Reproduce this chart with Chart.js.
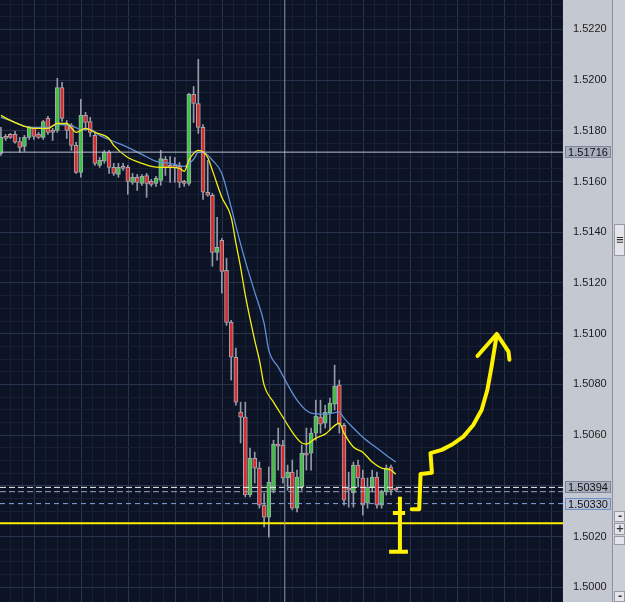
<!DOCTYPE html>
<html>
<head>
<meta charset="utf-8">
<script src="https://cdn.jsdelivr.net/npm/chart.js@4.4.0/dist/chart.umd.min.js"></script>
<style>
html, body { margin: 0; padding: 0; background: #c4c8d0; overflow: hidden; }
#wrap { position: relative; width: 625px; height: 602px; }
</style>
</head>
<body>
<div id="wrap"><canvas id="chart"></canvas></div>
<script>
// Candles
const candleOpen = [1.51711,1.51778,1.51786,1.51786,1.51758,1.51739,1.51774,1.51810,1.51786,1.51774,
  1.51849,1.51798,1.51802,1.51971,1.51825,1.51821,1.51743,1.51636,1.51861,1.51837,
  1.51782,1.51664,1.51680,1.51715,1.51656,1.51628,1.51656,1.51656,1.51597,1.51617,
  1.51593,1.51624,1.51601,1.51593,1.51605,1.51688,1.51664,1.51660,1.51660,1.51597,
  1.51593,1.51944,1.51908,1.51814,1.51558,1.51546,1.51321,1.51368,1.51250,1.51045,
  1.50907,1.50691,1.50671,1.50364,1.50509,1.50470,1.50324,1.50277,1.50383,1.50561,
  1.50561,1.50431,1.50454,1.50312,1.50395,1.50529,1.50529,1.50608,1.50671,1.50647,
  1.50687,1.50722,1.50797,1.50639,1.50391,1.50372,1.50482,1.50431,1.50332,1.50395,
  1.50435,1.50324,1.50376,1.50474,1.50387];
const candleHigh = [1.51814,1.51786,1.51790,1.51798,1.51774,1.51782,1.51818,1.51814,1.51794,1.51841,
  1.51857,1.51810,1.52007,1.51991,1.51841,1.51829,1.51755,1.51924,1.51873,1.51853,
  1.51790,1.51695,1.51723,1.51723,1.51672,1.51672,1.51672,1.51664,1.51632,1.51628,
  1.51628,1.51632,1.51609,1.51621,1.51723,1.51699,1.51699,1.51695,1.51676,1.51605,
  1.51948,1.51975,1.52082,1.51825,1.51684,1.51554,1.51459,1.51376,1.51297,1.51053,
  1.50943,1.50730,1.50730,1.50549,1.50533,1.50494,1.50372,1.50474,1.50580,1.50628,
  1.50580,1.50482,1.50502,1.50462,1.50561,1.50628,1.50628,1.50738,1.50738,1.50718,
  1.50746,1.50876,1.50817,1.50647,1.50454,1.50494,1.50502,1.50462,1.50431,1.50462,
  1.50454,1.50383,1.50482,1.50482,1.50391];
const candleLow = [1.51703,1.51762,1.51770,1.51751,1.51715,1.51719,1.51766,1.51766,1.51770,1.51766,
  1.51786,1.51762,1.51794,1.51837,1.51770,1.51723,1.51632,1.51617,1.51802,1.51778,
  1.51664,1.51656,1.51672,1.51632,1.51624,1.51617,1.51644,1.51550,1.51589,1.51565,
  1.51585,1.51538,1.51581,1.51581,1.51585,1.51624,1.51597,1.51597,1.51577,1.51581,
  1.51585,1.51833,1.51790,1.51530,1.51542,1.51266,1.51290,1.51160,1.51033,1.50817,
  1.50718,1.50569,1.50356,1.50356,1.50411,1.50312,1.50238,1.50198,1.50372,1.50462,
  1.50411,1.50383,1.50305,1.50297,1.50383,1.50462,1.50462,1.50580,1.50608,1.50628,
  1.50620,1.50699,1.50608,1.50324,1.50316,1.50316,1.50395,1.50285,1.50312,1.50376,
  1.50312,1.50312,1.50364,1.50364,1.50379];
const candleClose = [1.51774,1.51770,1.51774,1.51755,1.51735,1.51774,1.51814,1.51778,1.51774,1.51837,
  1.51794,1.51794,1.51971,1.51849,1.51802,1.51743,1.51636,1.51861,1.51833,1.51794,
  1.51672,1.51684,1.51715,1.51656,1.51632,1.51656,1.51652,1.51601,1.51617,1.51597,
  1.51621,1.51593,1.51589,1.51613,1.51691,1.51656,1.51656,1.51656,1.51597,1.51593,
  1.51944,1.51908,1.51814,1.51558,1.51546,1.51321,1.51341,1.51246,1.51045,1.50907,
  1.50730,1.50671,1.50364,1.50509,1.50470,1.50324,1.50277,1.50415,1.50565,1.50557,
  1.50431,1.50454,1.50312,1.50435,1.50529,1.50521,1.50608,1.50675,1.50643,1.50691,
  1.50726,1.50793,1.50643,1.50344,1.50383,1.50482,1.50431,1.50324,1.50395,1.50435,
  1.50324,1.50376,1.50470,1.50383,1.50383];

// Moving averages (yellow = fast, blue = slow), sampled at candle indices
const fastIdx = [0,2,5,7,10,12,14,16,18,20,23,24,27,30,32,34,36,38,39,40,41,42,44,45,47,49,50,51,52,54,55,56,58,60,62,64,65,67,69,72,73,75,77,79,81,83,84];
const fastMa = [1.51861,1.51841,1.51818,1.51810,1.51810,1.51829,1.51829,1.51794,1.51810,1.51794,
  1.51770,1.51743,1.51695,1.51672,1.51660,1.51656,1.51656,1.51652,1.51640,1.51684,
  1.51711,1.51723,1.51695,1.51644,1.51538,1.51459,1.51357,1.51262,1.51152,1.50974,
  1.50896,1.50797,1.50730,1.50671,1.50612,1.50569,1.50565,1.50588,1.50604,1.50647,
  1.50608,1.50553,1.50533,1.50494,1.50470,1.50462,1.50446];
const slowIdx = [0,2,5,7,10,12,15,17,19,21,24,27,30,33,36,39,41,42,43,45,47,49,50,52,54,56,57,59,63,66,69,72,73,75,77,80,82,84];
const slowMa = [1.51853,1.51841,1.51818,1.51814,1.51814,1.51825,1.51821,1.51806,1.51806,1.51782,
  1.51758,1.51735,1.51707,1.51680,1.51672,1.51660,1.51688,1.51715,1.51715,1.51684,
  1.51632,1.51498,1.51424,1.51286,1.51164,1.51041,1.50934,1.50868,1.50738,1.50687,
  1.50683,1.50691,1.50667,1.50628,1.50592,1.50549,1.50521,1.50494];

// Price axis labels
const priceTicks = [1.5000,1.5020,1.5040,1.5060,1.5080,1.5100,1.5120,1.5140,1.5160,1.5180,1.5200,1.5220];
const hiddenTicks = [1.5040]; // covered by the level tags in the screenshot

// Levels and crosshair
const crossY = 1.51716;
const crossX = 60.4;
const levelWhite = 1.50394;
const levelGray = 1.50377;
const levelBlue = 1.50330;
const levelYellow = 1.50253;

// Hand-drawn yellow annotation (index, price)
const arrowX = [87.4,89.0,89.3,91.7,91.4,93.8,95.9,98.4,100.5,102.3,103.5,104.4,105.5];
const arrowY = [1.50308,1.50308,1.50447,1.50452,1.50529,1.50542,1.50562,1.50594,1.50640,1.50700,1.50778,1.50870,1.50995];
const headX = [101.4,105.5,108.0,108.2];
const headY = [1.50912,1.50999,1.50929,1.50897];
const markX = [84.9,84.9,null,83.4,86.0,null,82.6,86.6];
const markY = [1.50357,1.50136,null,1.50293,1.50293,null,1.50140,1.50140];

const X_MIN = -0.2, X_MAX = 119.6;
const Y_MIN = 1.49942, Y_MAX = 1.52316;

const GREEN = '#3fc23f';
const RED = '#d92b2b';
const NAVY = '#0b1325';
const PANEL = '#c4c8d0';
const GRID_MAJOR = '#28334d';
const GRID_MINOR = '#161f35';

const idx = candleOpen.map((_, i) => i);
const pts = (xs, ys) => xs.map((x, k) => ({ x: x === null ? NaN : x, y: ys[k] }));
const hline = v => [{ x: X_MIN, y: v }, { x: X_MAX, y: v }];

const framePlugin = {
    id: 'frame',
    beforeDraw(chart) {
        const { ctx, chartArea: a } = chart;
        ctx.save();
        ctx.fillStyle = PANEL;
        ctx.fillRect(0, 0, chart.width, chart.height);
        ctx.fillStyle = NAVY;
        ctx.fillRect(a.left, a.top, a.right - a.left, a.bottom - a.top);
        ctx.fillStyle = '#cbced5';
        ctx.fillRect(613, 0, 12, chart.height);
        ctx.fillStyle = '#8a8f98';
        ctx.fillRect(612, 0, 1, chart.height);
        ctx.restore();
    },
    afterDraw(chart) {
        const { ctx } = chart;
        const y = chart.scales.y;
        ctx.save();
        const tag = (v, text, fill, stroke) => {
            const py = Math.round(y.getPixelForValue(v));
            ctx.fillStyle = fill;
            ctx.fillRect(565, py - 6, 46, 12);
            ctx.strokeStyle = stroke;
            ctx.lineWidth = 1;
            ctx.strokeRect(565.5, py - 5.5, 45, 11);
            ctx.fillStyle = '#111';
            ctx.font = '11px "Liberation Sans", Arial, sans-serif';
            ctx.textAlign = 'center';
            ctx.textBaseline = 'middle';
            ctx.fillText(text, 588, py + 0.5);
        };
        tag(crossY, '1.51716', '#a9afbe', '#7d8496');
        tag(levelWhite, '1.50394', '#a9afbe', '#7d8496');
        tag(levelBlue, '1.50330', '#b9c0d0', '#6f8fcb');

        // scrollbar strip widgets
        const btn = (top, h, text) => {
            ctx.fillStyle = '#e3e5ea';
            ctx.fillRect(614, top, 11, h);
            ctx.strokeStyle = '#979ca6';
            ctx.strokeRect(614.5, top + 0.5, 10, h - 1);
            ctx.fillStyle = '#333';
            ctx.font = 'bold 10px "DejaVu Sans", sans-serif';
            ctx.textAlign = 'center';
            ctx.textBaseline = 'middle';
            ctx.fillText(text, 620, top + h / 2);
        };
        btn(224, 32, '\u2261');
        btn(511, 11, '-');
        btn(523, 12, '+');
        btn(536, 9, '');
        btn(591, 11, '-');
        ctx.restore();
    }
};

const ctx = document.getElementById('chart').getContext('2d');
new Chart(ctx, {
    data: {
        datasets: [
            { type: 'line', label: 'arrow', order: 1, data: pts(arrowX, arrowY), borderColor: '#fff200', borderWidth: 4, pointRadius: 0, borderCapStyle: 'round', borderJoinStyle: 'round', tension: 0 },
            { type: 'line', label: 'head', order: 1, data: pts(headX, headY), borderColor: '#fff200', borderWidth: 4, pointRadius: 0, borderCapStyle: 'round', borderJoinStyle: 'round', tension: 0 },
            { type: 'line', label: 'mark', order: 1, data: pts(markX, markY), borderColor: '#fff200', borderWidth: 4, pointRadius: 0, borderCapStyle: 'butt', spanGaps: false, tension: 0 },
            { type: 'line', label: 'crossY', order: 2, data: hline(crossY), borderColor: '#b9c0d0', borderWidth: 1, pointRadius: 0 },
            { type: 'line', label: 'crossX', order: 2, data: [{ x: crossX, y: Y_MIN }, { x: crossX, y: Y_MAX }], borderColor: '#8f97aa', borderWidth: 1, pointRadius: 0 },
            { type: 'line', label: 'white', order: 2, data: hline(levelWhite), borderColor: '#f2f2f2', borderWidth: 1, borderDash: [6, 3], pointRadius: 0 },
            { type: 'line', label: 'gray', order: 2, data: hline(levelGray), borderColor: '#9ba3b4', borderWidth: 1, borderDash: [6, 3], pointRadius: 0 },
            { type: 'line', label: 'blue', order: 2, data: hline(levelBlue), borderColor: '#86a3d8', borderWidth: 1, borderDash: [5, 4], pointRadius: 0 },
            { type: 'line', label: 'yellow', order: 2, data: hline(levelYellow), borderColor: '#ffef00', borderWidth: 2, pointRadius: 0 },
            { type: 'line', label: 'fast', order: 3, data: pts(fastIdx, fastMa), borderColor: '#f4ee10', borderWidth: 1.3, pointRadius: 0, cubicInterpolationMode: 'monotone' },
            { type: 'line', label: 'slow', order: 3, data: pts(slowIdx, slowMa), borderColor: '#5f8fd6', borderWidth: 1.3, pointRadius: 0, cubicInterpolationMode: 'monotone' },
            {
                type: 'bar', label: 'body', order: 5, grouped: false,
                data: idx.map(i => ({ x: i, y: [candleOpen[i], candleClose[i]] })),
                backgroundColor: idx.map(i => candleClose[i] >= candleOpen[i] ? GREEN : RED),
                borderColor: '#a3a9b3', borderWidth: 1, borderSkipped: false, barThickness: 4, minBarLength: 2
            },
            {
                type: 'bar', label: 'wick', order: 6, grouped: false,
                data: idx.map(i => ({ x: i, y: [candleLow[i], candleHigh[i]] })),
                backgroundColor: '#959ba6', borderWidth: 0, barThickness: 1
            }
        ]
    },
    options: {
        responsive: true,
        maintainAspectRatio: false,
        animation: false,
        events: [],
        layout: { padding: { left: 0, right: 12, top: 0, bottom: 0 } },
        plugins: { legend: { display: false }, tooltip: { enabled: false } },
        scales: {
            x: {
                type: 'linear', min: X_MIN, max: X_MAX, offset: false,
                afterBuildTicks: s => {
                    const t = [];
                    for (let v = -1.7; v <= X_MAX; v += 2.5) t.push({ value: v });
                    s.ticks = t;
                },
                afterFit: s => { s.height = 0; s.paddingLeft = 0; s.paddingRight = 0; },
                ticks: { display: false },
                border: { display: false },
                grid: {
                    drawTicks: false,
                    color: c => {
                        if (!c.tick) return GRID_MINOR;
                        const r = ((c.tick.value - 8.3) % 10 + 10) % 10;
                        return (r < 0.01 || r > 9.99) ? GRID_MAJOR : GRID_MINOR;
                    }
                }
            },
            y: {
                type: 'linear', position: 'right', min: Y_MIN, max: Y_MAX,
                afterBuildTicks: s => {
                    const t = [];
                    priceTicks.forEach(p => { for (let k = 0; k < 4; k++) t.push({ value: +(p + k * 0.0005).toFixed(4) }); });
                    s.ticks = t.filter(o => o.value >= Y_MIN && o.value <= Y_MAX);
                },
                afterFit: s => { s.width = 50; s.paddingTop = 0; s.paddingBottom = 0; },
                border: { display: false },
                grid: {
                    drawTicks: false,
                    color: c => (c.tick && priceTicks.includes(c.tick.value) ? GRID_MAJOR : GRID_MINOR)
                },
                ticks: {
                    autoSkip: false,
                    crossAlign: 'center',
                    padding: 10,
                    color: '#1c1c1c',
                    font: { family: '"Liberation Sans", Arial, sans-serif', size: 11 },
                    callback: v => (priceTicks.includes(v) && !hiddenTicks.includes(v) ? v.toFixed(4) : '')
                }
            }
        }
    },
    plugins: [framePlugin]
});
</script>
</body>
</html>
